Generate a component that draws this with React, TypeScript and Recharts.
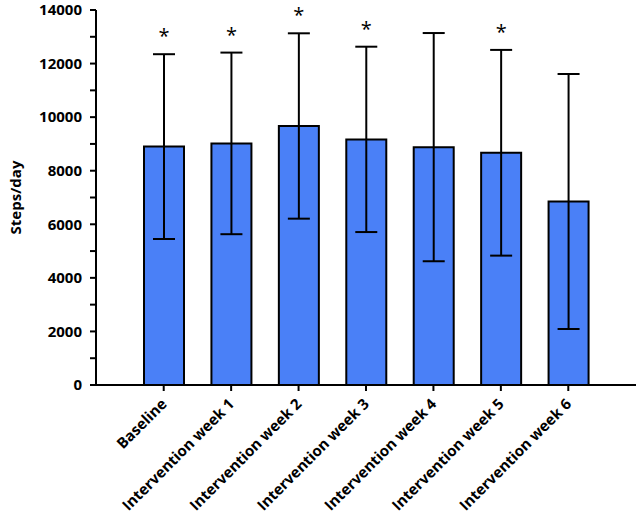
import React from "react"
import { BarChart, Bar, XAxis, YAxis, ErrorBar, LabelList } from "recharts"

const categories = [
  "Baseline",
  "Intervention week 1",
  "Intervention week 2",
  "Intervention week 3",
  "Intervention week 4",
  "Intervention week 5",
  "Intervention week 6",
]
const means = [8900, 9020, 9670, 9170, 8880, 8670, 6850]
const sds = [3450, 3390, 3460, 3460, 4260, 3840, 4760]
const significant = [true, true, true, true, false, true, false]
const yTicks = [0, 1000, 2000, 3000, 4000, 5000, 6000, 7000, 8000, 9000, 10000, 11000, 12000, 13000, 14000]

const FONT = "'Open Sans', sans-serif"

const data = categories.map((name, i) => ({
  name,
  mean: means[i],
  sd: sds[i],
}))

// rotated category label, anchored at its end on the tick
const XTick = (props: any) => {
  const { x, y, payload } = props
  return (
    <text
      x={x + 4}
      y={y + 12}
      transform={`rotate(-45, ${x + 4}, ${y + 12})`}
      textAnchor="end"
      fontFamily={FONT}
      fontWeight={700}
      fontSize={15}
      fill="#000"
    >
      {payload.value}
    </text>
  )
}

// asterisk above the error bar cap
const renderStar = (props: any) => {
  const { x, y, width, height, value, index } = props
  if (!significant[index]) return null
  const pxPerUnit = height / value
  const capY = y - sds[index] * pxPerUnit
  return (
    <text
      x={x + width / 2}
      y={capY - 11}
      textAnchor="middle"
      fontFamily={FONT}
      fontSize={20}
      fill="#000"
    >
      *
    </text>
  )
}

export default function App() {
  return (
    <div style={{ position: "absolute", left: 0, top: 0, background: "#fff" }}>
      <BarChart
        width={638}
        height={514}
        data={data}
        margin={{ top: 10, right: 2, bottom: 0, left: 0 }}
        barSize={40}
      >
        <XAxis
          dataKey="name"
          height={129}
          interval={0}
          padding={{ left: 34, right: 34 }}
          axisLine={{ stroke: "#000", strokeWidth: 2 }}
          tickLine={{ stroke: "#000", strokeWidth: 2 }}
          tickSize={6}
          tick={<XTick />}
        />
        <YAxis
          width={96}
          domain={[0, 14000]}
          ticks={yTicks}
          interval={0}
          tickFormatter={(v: number) => (v % 2000 === 0 ? String(v) : "")}
          axisLine={{ stroke: "#000", strokeWidth: 2 }}
          tickLine={{ stroke: "#000", strokeWidth: 2 }}
          tickSize={6}
          tickMargin={8}
          tick={{ fill: "#000", fontFamily: FONT, fontWeight: 700, fontSize: 15 }}
          label={(p: any) => {
            const vb = p.viewBox
            const cy = vb.y + vb.height / 2
            return (
              <text
                x={15}
                y={cy}
                transform={`rotate(-90, 15, ${cy})`}
                textAnchor="middle"
                dominantBaseline="central"
                fontFamily={FONT}
                fontWeight={700}
                fontSize={15}
                fill="#000"
              >
                Steps/day
              </text>
            )
          }}
        />
        <Bar dataKey="mean" fill="#4a80f7" stroke="#000" strokeWidth={2} isAnimationActive={false}>
          <ErrorBar dataKey="sd" width={11} stroke="#000" strokeWidth={2} direction="y" />
          <LabelList dataKey="mean" content={renderStar} />
        </Bar>
      </BarChart>
    </div>
  )
}
